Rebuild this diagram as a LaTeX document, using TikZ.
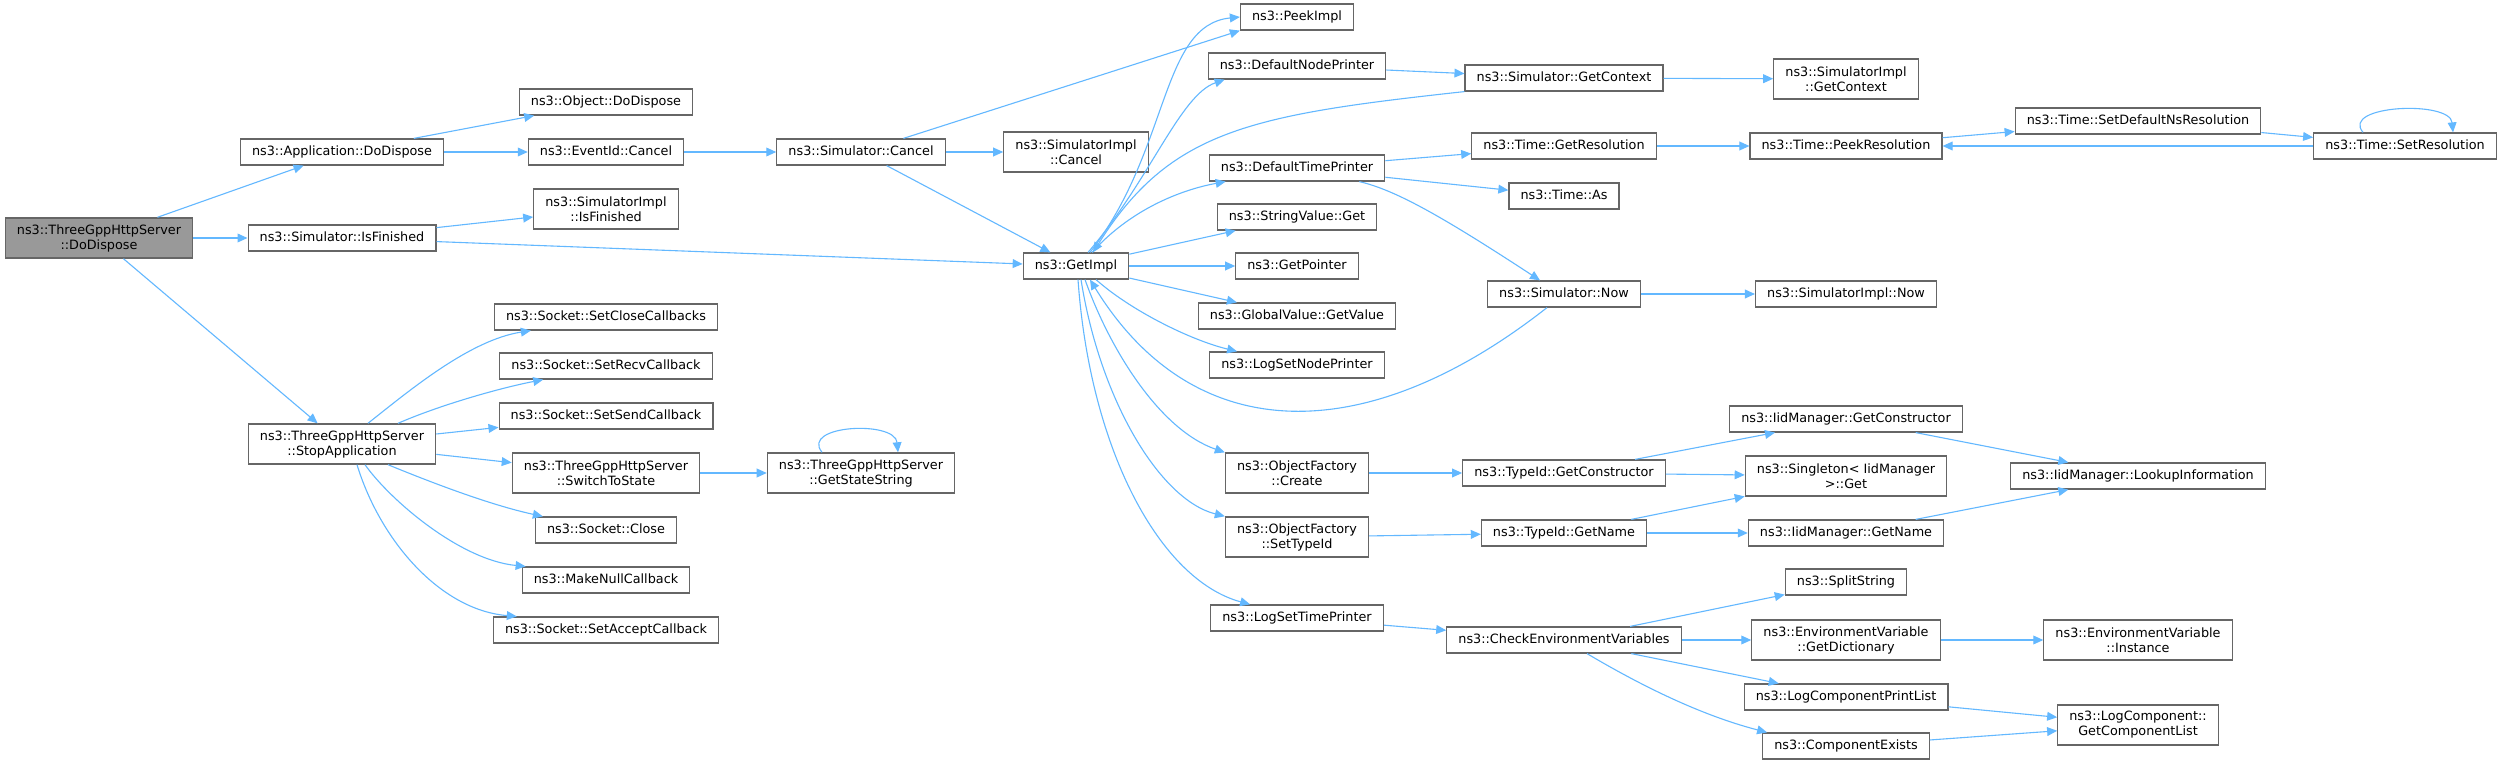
\documentclass[tikz,border=0pt]{standalone}
\usepackage{fontspec}
\setmainfont{DejaVu Sans}
\usetikzlibrary{arrows.meta,calc}
\definecolor{edgeblue}{HTML}{63B8FF}
\definecolor{boxgray}{HTML}{666666}
\definecolor{rootgray}{HTML}{999999}

\begin{document}
\begin{tikzpicture}[x=0.5pt,y=-0.5pt]
    \tikzstyle{fn} = [draw=boxgray,fill=white,line width=0.6pt,inner xsep=5.8pt,inner ysep=3.2pt,minimum height=13pt,text height=4.9pt,text depth=1.4pt,font=\fontsize{6.4}{7.5}\selectfont]
    \tikzstyle{fnn} = [draw=boxgray,fill=white,line width=0.6pt,inner xsep=5.8pt,inner ysep=3.2pt,minimum height=20pt,align=center,font=\fontsize{6.4}{7.5}\selectfont]
    \tikzstyle{call} = [-{Triangle[length=5pt,width=4.4pt]},draw=edgeblue,line width=0.55pt]

    \useasboundingbox (0,0) rectangle (2504,764);
    \fill[white] (0,0) rectangle (2504,764);

    \node[fnn,fill=rootgray] (dodispose) at (99,238) {ns3::ThreeGppHttpServer\\::DoDispose};

    \node[fn] (appdispose) at (342,152) {ns3::Application::DoDispose};
    \node[fn] (isfinished) at (342,238) {ns3::Simulator::IsFinished};
    \node[fnn] (stopapp) at (342,444) {ns3::ThreeGppHttpServer\\::StopApplication};

    \node[fn] (objdispose) at (606,102) {ns3::Object::DoDispose};
    \node[fn] (eventcancel) at (606,152) {ns3::EventId::Cancel};
    \node[fnn] (implfinished) at (606,209) {ns3::SimulatorImpl\\::IsFinished};
    \node[fn] (setclose) at (606,317) {ns3::Socket::SetCloseCallbacks};
    \node[fn] (setrecv) at (606,366) {ns3::Socket::SetRecvCallback};
    \node[fn] (setsend) at (606,416) {ns3::Socket::SetSendCallback};
    \node[fnn] (switchstate) at (606,473) {ns3::ThreeGppHttpServer\\::SwitchToState};
    \node[fn] (sockclose) at (606,530) {ns3::Socket::Close};
    \node[fn] (makenull) at (606,580) {ns3::MakeNullCallback};
    \node[fn] (setaccept) at (606,630) {ns3::Socket::SetAcceptCallback};

    \node[fn] (simcancel) at (861,152) {ns3::Simulator::Cancel};
    \node[fnn] (statestring) at (861,473) {ns3::ThreeGppHttpServer\\::GetStateString};

    \node[fnn] (implcancel) at (1076,152) {ns3::SimulatorImpl\\::Cancel};
    \node[fn] (getimpl) at (1076,266) {ns3::GetImpl};

    \node[fn] (peekimpl) at (1297,17) {ns3::PeekImpl};
    \node[fn] (nodeprinter) at (1297,66) {ns3::DefaultNodePrinter};
    \node[fn] (timeprinter) at (1297,168) {ns3::DefaultTimePrinter};
    \node[fn] (strget) at (1297,217) {ns3::StringValue::Get};
    \node[fn] (getptr) at (1297,266) {ns3::GetPointer};
    \node[fn] (globalget) at (1297,316) {ns3::GlobalValue::GetValue};
    \node[fn] (lognode) at (1297,365) {ns3::LogSetNodePrinter};
    \node[fnn] (ofcreate) at (1297,473) {ns3::ObjectFactory\\::Create};
    \node[fnn] (ofsettid) at (1297,537) {ns3::ObjectFactory\\::SetTypeId};
    \node[fn] (logtime) at (1297,618) {ns3::LogSetTimePrinter};

    \node[fn] (simcontext) at (1564,78) {ns3::Simulator::GetContext};
    \node[fn] (getres) at (1564,146) {ns3::Time::GetResolution};
    \node[fn] (timeas) at (1564,196) {ns3::Time::As};
    \node[fn] (simnow) at (1564,294) {ns3::Simulator::Now};
    \node[fn] (tidctor) at (1564,473) {ns3::TypeId::GetConstructor};
    \node[fn] (tidname) at (1564,533) {ns3::TypeId::GetName};
    \node[fn] (checkenv) at (1564,640) {ns3::CheckEnvironmentVariables};

    \node[fnn] (implcontext) at (1846,79) {ns3::SimulatorImpl\\::GetContext};
    \node[fn] (peekres) at (1846,146) {ns3::Time::PeekResolution};
    \node[fn] (implnow) at (1846,294) {ns3::SimulatorImpl::Now};
    \node[fn] (iidctor) at (1846,419) {ns3::IidManager::GetConstructor};
    \node[fnn] (singleton) at (1846,476) {ns3::Singleton< IidManager\\>::Get};
    \node[fn] (iidname) at (1846,533) {ns3::IidManager::GetName};
    \node[fn] (splitstr) at (1846,582) {ns3::SplitString};
    \node[fnn] (envdict) at (1846,640) {ns3::EnvironmentVariable\\::GetDictionary};
    \node[fn] (logprint) at (1846,697) {ns3::LogComponentPrintList};
    \node[fn] (compexists) at (1846,746) {ns3::ComponentExists};

    \node[fn] (setdefres) at (2138,121) {ns3::Time::SetDefaultNsResolution};
    \node[fn] (lookup) at (2138,476) {ns3::IidManager::LookupInformation};
    \node[fnn] (envinst) at (2138,640) {ns3::EnvironmentVariable\\::Instance};
    \node[fnn] (complist) at (2138,725) {ns3::LogComponent::\\GetComponentList};

    \node[fn] (setres) at (2405,146) {ns3::Time::SetResolution};

    % first calls
    \draw[call] (dodispose) -- (appdispose);
    \draw[call] (dodispose) -- (isfinished);
    \draw[call] (dodispose) -- (stopapp);
    \draw[call] (appdispose) -- (objdispose);
    \draw[call] (appdispose) -- (eventcancel);
    \draw[call] (isfinished) -- (implfinished);
    \draw[call] (isfinished) -- (getimpl);
    \draw[call] (eventcancel) -- (simcancel);
    \draw[call] (simcancel) -- (implcancel);
    \draw[call] (simcancel) -- (getimpl);
    \draw[call] (simcancel) -- (peekimpl.south west);

    % socket calls
    \draw[call] ($(stopapp.north)+(26,0)$) .. controls (410,390) and (470,340) .. ($(setclose.south west)+(37,0)$);
    \draw[call] ($(stopapp.north)+(56,0)$) .. controls (440,405) and (500,388) .. ($(setrecv.south west)+(44,0)$);
    \draw[call] (stopapp) -- (setsend);
    \draw[call] (stopapp) -- (switchstate);
    \draw[call] ($(stopapp.south)+(46,0)$) .. controls (430,482) and (490,505) .. ($(sockclose.north west)+(8,0)$);
    \draw[call] ($(stopapp.south)+(23,0)$) .. controls (390,500) and (460,560) .. ($(makenull.north west)+(4,0)$);
    \draw[call] ($(stopapp.south)+(15,0)$) .. controls (380,540) and (440,610) .. ($(setaccept.north west)+(24,0)$);
    \draw[call] (switchstate) -- (statestring);
    \draw[call] ($(statestring.north)+(-39,0)$) .. controls (800,425) and (895,420) .. ($(statestring.north)+(37,0)$);

    % GetImpl fan
    \draw[call] ($(getimpl.north)+(14,0)$) .. controls (1170,150) and (1160,25) .. (peekimpl.west);
    \draw[call] ($(getimpl.north)+(12,0)$) .. controls (1150,180) and (1180,95) .. ($(nodeprinter.south west)+(17,0)$);
    \draw[call] (simcontext.south west) .. controls (1250,115) and (1170,130) .. ($(getimpl.north)+(17,0)$);
    \draw[call] ($(getimpl.north)+(16,0)$) .. controls (1130,210) and (1180,190) .. ($(timeprinter.south west)+(17,0)$);
    \draw[call] (getimpl) -- (strget);
    \draw[call] (getimpl) -- (getptr);
    \draw[call] (getimpl) -- (globalget);
    \draw[call] ($(getimpl.south)+(20,0)$) .. controls (1130,310) and (1190,340) .. ($(lognode.north west)+(28,0)$);
    \draw[call] ($(getimpl.south)+(9,0)$) .. controls (1110,350) and (1160,430) .. (ofcreate.north west);
    \draw[call] ($(getimpl.south)+(5,0)$) .. controls (1100,400) and (1160,500) .. (ofsettid.north west);
    \draw[call] ($(getimpl.south)+(2,0)$) .. controls (1090,450) and (1160,580) .. ($(logtime.north west)+(40,0)$);
    \draw[call] ($(simnow.south)+(-17,0)$) .. controls (1367,449) and (1194,449) .. ($(getimpl.south)+(14,0)$);

    % printers and time
    \draw[call] (nodeprinter) -- (simcontext);
    \draw[call] (simcontext) -- (implcontext);
    \draw[call] (timeprinter) -- (getres);
    \draw[call] (timeprinter) -- (timeas);
    \draw[call] ($(timeprinter.south east)+(-26,0)$) .. controls (1395,190) and (1440,215) .. ($(simnow.north)+(-24,0)$);
    \draw[call] (simnow) -- (implnow);
    \draw[call] (getres) -- (peekres);
    \draw[call] (peekres) -- (setdefres);
    \draw[call] (setdefres) -- (setres);
    \draw[call] (setres) -- (peekres);
    \draw[call] ($(setres.north)+(-42,0)$) .. controls (2340,105) and (2450,100) .. ($(setres.north)+(48,0)$);

    % type ids
    \draw[call] (ofcreate) -- (tidctor);
    \draw[call] (ofsettid) -- (tidname);
    \draw[call] (tidctor) -- (iidctor);
    \draw[call] (tidctor) -- (singleton);
    \draw[call] (tidname) -- (singleton);
    \draw[call] (tidname) -- (iidname);
    \draw[call] (iidctor) -- (lookup);
    \draw[call] (iidname) -- (lookup);

    % environment
    \draw[call] (logtime) -- (checkenv);
    \draw[call] (checkenv) -- (splitstr);
    \draw[call] (checkenv) -- (envdict);
    \draw[call] (checkenv) -- (logprint);
    \draw[call] ($(checkenv.south)+(23,0)$) .. controls (1640,685) and (1700,715) .. ($(compexists.north west)+(5,0)$);
    \draw[call] (envdict) -- (envinst);
    \draw[call] (logprint) -- (complist);
    \draw[call] (compexists) -- (complist);

\end{tikzpicture}
\end{document}
